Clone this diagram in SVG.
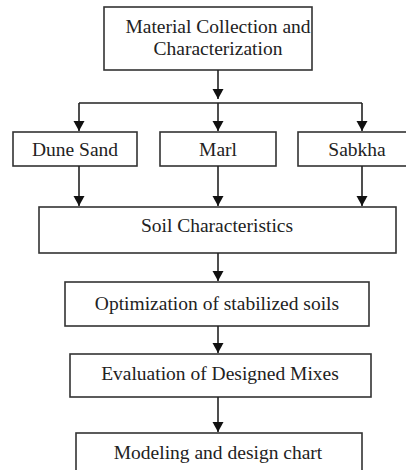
<svg xmlns="http://www.w3.org/2000/svg" width="406" height="470" viewBox="0 0 406 470">
<style>
.box{fill:#fff;stroke:#333;stroke-width:1.6}
.t{font-family:"Liberation Serif","Times New Roman",serif;font-size:19.5px;fill:#222;text-anchor:middle}
.c{stroke:#222;stroke-width:1.6;fill:none;marker-end:url(#ah)}
</style>
<defs>
<marker id="ah" markerUnits="userSpaceOnUse" markerWidth="11" markerHeight="12" refX="10" refY="5.5" orient="auto">
<path d="M0,0 L10,5.5 L0,11 Z" fill="#111"/>
</marker>
</defs>
<rect width="406" height="470" fill="#fff"/>
<g id="n1"><rect class="box" x="104" y="7" width="208" height="63"/>
<text class="t" x="218" y="33">Material Collection and</text>
<text class="t" x="218" y="55">Characterization</text></g>
<g id="n2"><rect class="box" x="13" y="132" width="124" height="34"/><text class="t" x="75" y="156">Dune Sand</text></g>
<g id="n3"><rect class="box" x="160" y="132" width="116" height="34"/><text class="t" x="218" y="156">Marl</text></g>
<g id="n4"><rect class="box" x="298" y="132" width="120" height="34"/><text class="t" x="357" y="156">Sabkha</text></g>
<g id="n5"><rect class="box" x="39" y="207" width="357" height="46"/><text class="t" x="217" y="232">Soil Characteristics</text></g>
<g id="n6"><rect class="box" x="65" y="282" width="304" height="44"/><text class="t" x="217" y="310">Optimization of stabilized soils</text></g>
<g id="n7"><rect class="box" x="70" y="354" width="301" height="43"/><text class="t" x="220" y="380">Evaluation of Designed Mixes</text></g>
<g id="n8"><rect class="box" x="76" y="433" width="286" height="45"/><text class="t" x="218" y="459">Modeling and design chart</text></g>
<g id="connectors">
<path class="c" d="M218,70 V99"/>
<path d="M79,103 H362" stroke="#222" stroke-width="1.6" fill="none"/>
<path class="c" d="M79,103 V131"/>
<path class="c" d="M218,103 V131"/>
<path class="c" d="M362,103 V131"/>
<path class="c" d="M79,166 V206"/>
<path class="c" d="M218,166 V206"/>
<path class="c" d="M362,166 V206"/>
<path class="c" d="M218,253 V281"/>
<path class="c" d="M218,326 V353"/>
<path class="c" d="M218,397 V432"/>
</g>
</svg>
